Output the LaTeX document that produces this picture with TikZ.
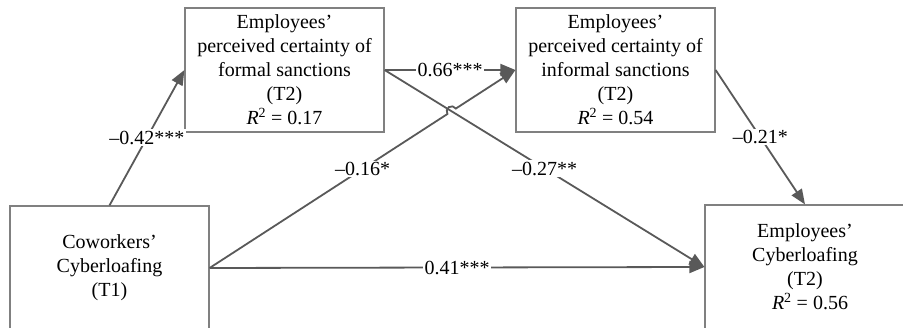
\documentclass[tikz,border=0pt]{standalone}
\usepackage{fontspec}
\setmainfont{Liberation Serif}
\usetikzlibrary{arrows.meta,calc,intersections}
\definecolor{boxgray}{HTML}{808080}
\definecolor{linegray}{HTML}{595959}
\begin{document}
\begin{tikzpicture}[x=1pt,y=1pt,
  box/.style={draw=boxgray, line width=1.2pt, minimum width=199pt, minimum height=124pt, align=center, inner sep=0pt, font=\fontsize{20}{24}\selectfont},
  conn/.style={draw=linegray, line width=1.8pt, -{Triangle[length=15pt,width=12pt]}},
  lab/.style={fill=white, inner sep=1.5pt, font=\fontsize{20}{24}\selectfont, text=black}]
\useasboundingbox (0,0) rectangle (903,328);
\node[box] (A) at (284.5,258) {Employees’\\perceived certainty of\\formal sanctions\\(T2)\\\textit{R}\textsuperscript{2} = 0.17};
\node[box] (B) at (615.5,258) {Employees’\\perceived certainty of\\informal sanctions\\(T2)\\\textit{R}\textsuperscript{2} = 0.54};
\node[box] (C) at (109.5,60) {Coworkers’\\Cyberloafing\\(T1)};
\node[box, minimum width=200pt] (D) at (805,61) {Employees’\\Cyberloafing\\(T2)\\\hspace*{10pt}\textit{R}\textsuperscript{2} = 0.56};
\draw[conn] (C.north) -- node[lab]{–0.42***} (A.west);
\draw[conn] (A.east) -- node[lab]{0.66***} (B.west);
\draw[conn] (A.east) -- node[lab]{–0.27**} (D.west);
\path[name path=ad] (A.east) -- (D.west);
\path[name path=cb] (C.east) -- (B.west);
\path[name intersections={of=ad and cb, by=X}];
\draw[conn] let \p1=($(B.west)-(C.east)$), \n1={atan2(\y1,\x1)} in
  (C.east) -- ($(X)!5pt!(C.east)$) arc[start angle=\n1+180, end angle=\n1, radius=5pt] -- (B.west);
\node[lab] (l16) at ($(C.east)!0.5!(B.west)$) {–0.16*};
\draw[conn] (C.east) -- node[lab]{0.41***} (D.west);
\draw[conn] (B.east) -- node[lab]{–0.21*} (D.north);
\end{tikzpicture}
\end{document}
